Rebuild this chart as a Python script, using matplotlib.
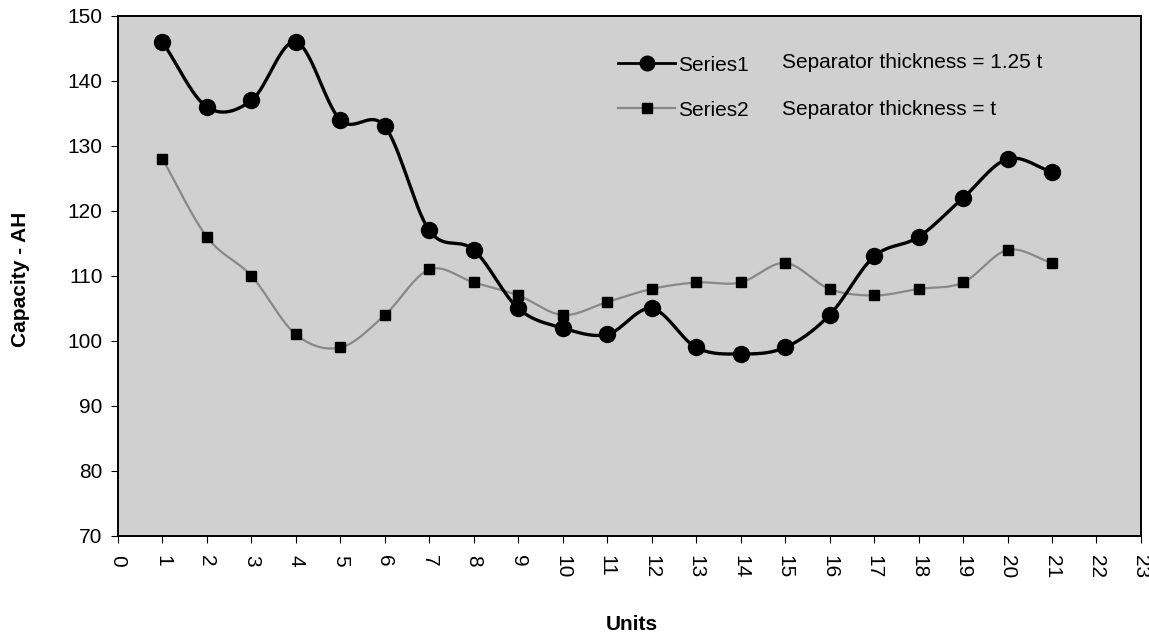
import numpy as np
import matplotlib
matplotlib.use("Agg")
import matplotlib.pyplot as plt

units = list(range(1, 22))
series1 = [146, 136, 137, 146, 134, 133, 117, 114, 105, 102, 101, 105, 99, 98, 99, 104, 113, 116, 122, 128, 126]
series2 = [128, 116, 110, 101, 99, 104, 111, 109, 107, 104, 106, 108, 109, 109, 112, 108, 107, 108, 109, 114, 112]
labels = ["Series1", "Series2"]
notes = ["Separator thickness = 1.25 t", "Separator thickness = t"]
xticks = list(range(0, 24))
yticks = list(range(70, 151, 10))


def smooth(x, y, n=30):
    # Catmull-Rom spline through the points (Excel-style smoothed line)
    x = np.asarray(x, float)
    y = np.asarray(y, float)
    px = np.concatenate([[2 * x[0] - x[1]], x, [2 * x[-1] - x[-2]]])
    py = np.concatenate([[2 * y[0] - y[1]], y, [2 * y[-1] - y[-2]]])
    xs, ys = [], []
    t = np.linspace(0, 1, n, endpoint=False)
    for i in range(1, len(px) - 2):
        p0, p1, p2, p3 = (np.array([px[j], py[j]]) for j in range(i - 1, i + 3))
        tt = t[:, None]
        pts = 0.5 * ((2 * p1) + (-p0 + p2) * tt + (2 * p0 - 5 * p1 + 4 * p2 - p3) * tt ** 2
                     + (-p0 + 3 * p1 - 3 * p2 + p3) * tt ** 3)
        xs.append(pts[:, 0])
        ys.append(pts[:, 1])
    xs.append([x[-1]])
    ys.append([y[-1]])
    return np.concatenate(xs), np.concatenate(ys)


plt.rcParams["font.family"] = ["Liberation Sans", "DejaVu Sans"]
FS = 15

fig = plt.figure(figsize=(11.49, 6.34), dpi=100)
ax = fig.add_axes([0.1027, 0.1546, 0.8903, 0.8202])
ax.set_facecolor("#d0d0d0")

sx, sy = smooth(units, series1)
ax.plot(sx, sy, color="black", lw=2.4, zorder=3)
ax.plot(units, series1, "o", color="black", ms=11.5, zorder=4)
tx, ty = smooth(units, series2)
ax.plot(tx, ty, color="#888888", lw=1.6, zorder=2)
ax.plot(units, series2, "s", color="black", ms=7, zorder=4)

h1, = ax.plot([], [], "-o", color="black", lw=2.0, ms=10.5, markerfacecolor="black", markeredgecolor="black")
h2, = ax.plot([], [], "-s", color="#888888", lw=1.6, ms=7, markerfacecolor="black", markeredgecolor="black")
leg = ax.legend([h1, h2], labels, loc="upper left", bbox_to_anchor=(0.489, 0.9235), frameon=False,
                fontsize=FS, handlelength=2.74, handletextpad=0.15, labelspacing=1.24, borderpad=0,
                borderaxespad=0)

ax.text(0.649, 0.9096, notes[0], transform=ax.transAxes, fontsize=FS, va="center", ha="left")
ax.text(0.649, 0.821, notes[1], transform=ax.transAxes, fontsize=FS, va="center", ha="left")

ax.set_xlim(0, 23)
ax.set_ylim(70, 150)
ax.set_xticks(xticks)
ax.set_xticklabels([str(v) for v in xticks], rotation=270, fontsize=FS)
ax.set_yticks(yticks)
ax.set_yticklabels([str(v) for v in yticks], fontsize=FS)
ax.tick_params(axis="both", which="major", length=5, width=0.8, direction="out")
ax.tick_params(axis="x", pad=9)
ax.tick_params(axis="y", pad=6)

for s in ax.spines.values():
    s.set_linewidth(1.4)

fig.text(0.018, 0.56, "Capacity - AH", rotation=90, fontsize=FS, fontweight="bold", ha="center", va="center")
fig.text(0.55, 0.0063, "Units", fontsize=FS, fontweight="bold", ha="center", va="baseline")

fig.savefig("out.png", dpi=100)
